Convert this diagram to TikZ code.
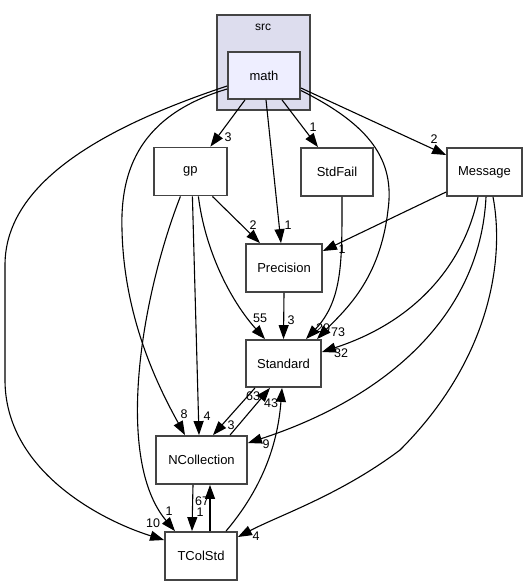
\documentclass[tikz,border=0pt]{standalone}
\usepackage{fontspec}
\setmainfont{Liberation Sans}
\usetikzlibrary{arrows.meta,calc}
\definecolor{boxborder}{HTML}{444444}
\definecolor{clusterfill}{HTML}{DDDDEE}
\definecolor{mathfill}{HTML}{EEEEFF}
\begin{document}
\begin{tikzpicture}[x=1pt,y=-1pt,
  box/.style={draw=boxborder,line width=1.8pt,fill=white,rectangle,inner sep=0pt,minimum height=48pt,font=\fontsize{13}{15}\selectfont},
  dep/.style={draw=black,line width=1.1pt,-{Triangle[length=14pt,width=10pt]}},
  lab/.style={font=\fontsize{12.5}{14}\selectfont,inner sep=0pt,text=black}]
\useasboundingbox (0,0) rectangle (528,585);
% cluster
\node[draw=boxborder,line width=1.8pt,fill=clusterfill,rectangle,inner sep=0pt,minimum width=93pt,minimum height=95pt] (src) at (263.5,62.5) {};
\node[lab,font=\fontsize{12}{14}\selectfont] (srclabel) at (263,27) {src};
% nodes
\node[box,fill=mathfill,minimum width=72pt,minimum height=47pt] (math) at (264,75.5) {math};
\node[box,minimum width=72.6pt] (gp) at (190.4,171.5) {gp};
\node[box,minimum width=72pt] (StdFail) at (337,172) {StdFail};
\node[box,minimum width=75pt] (Message) at (484.5,172) {Message};
\node[box,minimum width=76pt] (Precision) at (284,268) {Precision};
\node[box,minimum width=75pt,minimum height=47pt] (Standard) at (283.5,363.5) {Standard};
\node[box,minimum width=91pt] (NCollection) at (201.5,460) {NCollection};
\node[box,minimum width=72pt] (TColStd) at (201,556) {TColStd};
% edges from math
\draw[dep] ([xshift=-19pt]math.south) -- ([xshift=20pt]gp.north);
\draw[dep] ([xshift=2pt]math.south) -- ([xshift=-3pt]Precision.north);
\draw[dep] ([xshift=18pt]math.south) -- ([xshift=-19pt]StdFail.north);
\draw[dep] ([yshift=-12.5pt]math.east) -- ([yshift=17pt]Message.west);
\draw[dep] ([yshift=-15pt]math.east) .. controls (370,125) and (395,160) .. (388,210) .. controls (380,280) and (345,310) .. ([xshift=33.5pt]Standard.north);
\draw[dep] ([yshift=-13.5pt]math.west) .. controls (140,115) and (120,170) .. (122,230) .. controls (124,320) and (160,390) .. ([xshift=-16.5pt]NCollection.north);
\draw[dep] ([yshift=-10.5pt]math.west) .. controls (110,125) and (5,180) .. (5,265) -- (5,380) .. controls (5,470) and (100,520) .. ([yshift=16pt]TColStd.west);
% StdFail
\draw[dep] ([xshift=5pt]StdFail.south) .. controls (342,260) and (343,300) .. ([xshift=22.5pt]Standard.north);
% Message
\draw[dep] ([yshift=-20pt]Message.west) -- ([yshift=17pt]Precision.east);
\draw[dep] ([xshift=-6.5pt]Message.south) .. controls (465,260) and (420,320) .. ([yshift=11.5pt]Standard.east);
\draw[dep] ([xshift=1.5pt]Message.south) .. controls (480,320) and (380,400) .. ([yshift=17pt]NCollection.east);
\draw[dep] ([xshift=8.5pt]Message.south) .. controls (505,260) and (490,360) .. (400,450) .. controls (340,495) and (280,515) .. ([yshift=19pt]TColStd.east);
% gp
\draw[dep] ([xshift=22pt]gp.south) -- ([xshift=-24pt]Precision.north);
\draw[dep] ([xshift=8pt]gp.south) .. controls (205,250) and (230,300) .. ([xshift=-18.5pt]Standard.north);
\draw[dep] ([xshift=2pt]gp.south) -- ([xshift=-2.5pt]NCollection.north);
\draw[dep] ([xshift=-10pt]gp.south) .. controls (140,300) and (115,460) .. ([xshift=-26pt]TColStd.north);
% Precision
\draw[dep] (Precision.south) -- (Standard.north);
% Standard / NCollection / TColStd
\draw[dep] ([xshift=-28.5pt]Standard.south) -- ([xshift=11.5pt]NCollection.north);
\draw[dep] ([xshift=28.5pt]NCollection.north) -- ([xshift=-13.5pt]Standard.south);
\draw[dep] ([xshift=25pt]TColStd.north) .. controls (265,485) and (278,440) .. ([xshift=-1.5pt]Standard.south);
\draw[dep] ([xshift=-8.5pt]NCollection.south) -- ([xshift=-9pt]TColStd.north);
\draw[dep] ([xshift=9pt]TColStd.north) -- ([xshift=8.5pt]NCollection.south);
% labels
\node[lab] (l1) at (228,137) {3};
\node[lab] (l2) at (288,225) {1};
\node[lab] (l3) at (313,127) {1};
\node[lab] (l4) at (434,139) {2};
\node[lab] (l5) at (253,225) {2};
\node[lab] (l6) at (342,249) {1};
\node[lab] (l7) at (260,318) {55};
\node[lab] (l8) at (291,320) {3};
\node[lab] (l9) at (323,328) {20};
\node[lab] (l10) at (338,332) {73};
\node[lab] (l11) at (341,353) {32};
\node[lab] (l12) at (253,396) {63};
\node[lab] (l13) at (271,403) {43};
\node[lab] (l14) at (184,414) {8};
\node[lab] (l15) at (207,416) {4};
\node[lab] (l16) at (231,425) {3};
\node[lab] (l17) at (266,444) {9};
\node[lab] (l18) at (202,501) {67};
\node[lab] (l19) at (200,512) {1};
\node[lab] (l20) at (169,511) {1};
\node[lab] (l21) at (153,523) {10};
\node[lab] (l22) at (256,536) {4};
\end{tikzpicture}
\end{document}
